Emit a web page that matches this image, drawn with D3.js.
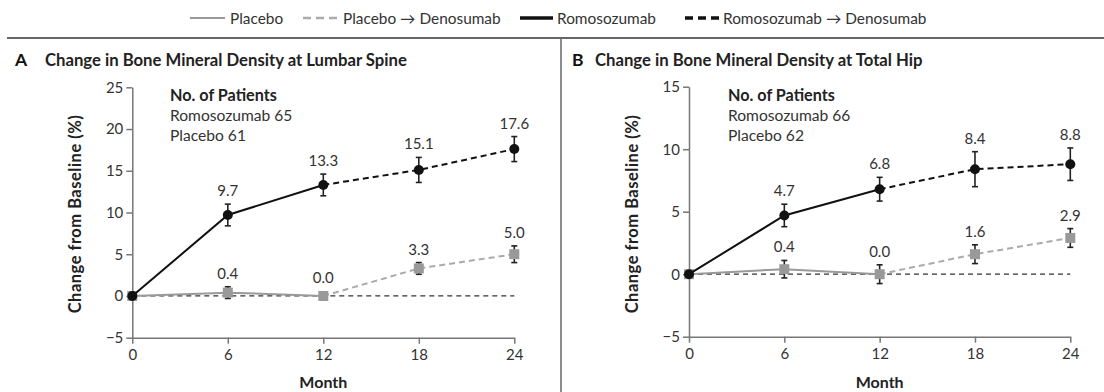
<!DOCTYPE html>
<html lang="en">
<head>
<meta charset="UTF-8"/>
<title>Bone Mineral Density</title>
<script src="https://d3js.org/d3.v7.min.js"></script>
<style>
  body { margin: 0; background: #fff; }
  text { font-family: Lato, "Open Sans", sans-serif; }
</style>
</head>
<body>
<script>
    // chart values
    var months = [0, 6, 12, 18, 24];

    var spineRomo = [0, 9.7, 13.3, 15.1, 17.6];
    var spineRomoErr = [0, 1.3, 1.3, 1.5, 1.5];
    var spinePlacebo = [0, 0.4, 0.0, 3.3, 5.0];
    var spinePlaceboErr = [0, 0.7, 0.5, 0.7, 1.0];
    var spineTicks = [-5, 0, 5, 10, 15, 20, 25];

    var hipRomo = [0, 4.7, 6.8, 8.4, 8.8];
    var hipRomoErr = [0, 0.9, 0.95, 1.4, 1.3];
    var hipPlacebo = [0, 0.4, 0.0, 1.6, 2.9];
    var hipPlaceboErr = [0, 0.7, 0.75, 0.75, 0.75];
    var hipTicks = [-5, 0, 5, 10, 15];

    var legendLabels = ["Placebo", "Placebo \u2192 Denosumab", "Romosozumab", "Romosozumab \u2192 Denosumab"];

    var w = 1104;
    var h = 392;

    var svg = d3.select("body")
                .append("svg")
                .attr("width", w)
                .attr("height", h);

    // legend across the top
    var legend = [
        {x1: 190, x2: 225, tx: 230, color: "#999", dash: null, sw: 2},
        {x1: 303, x2: 338, tx: 343, color: "#aaa", dash: "8,5", sw: 2.5},
        {x1: 520, x2: 553, tx: 557, color: "#111", dash: null, sw: 3.5},
        {x1: 685, x2: 720, tx: 723, color: "#111", dash: "8,5", sw: 3.5}
    ];
    legend.forEach(function(d, i) {
        svg.append("line")
           .attr("x1", d.x1).attr("x2", d.x2)
           .attr("y1", 18).attr("y2", 18)
           .attr("stroke", d.color)
           .attr("stroke-width", d.sw)
           .attr("stroke-dasharray", d.dash);
        svg.append("text")
           .attr("x", d.tx)
           .attr("y", 23.5)
           .attr("font-size", "15.4px")
           .attr("fill", "#333")
           .text(legendLabels[i]);
    });

    // frame lines
    svg.append("line")
       .attr("x1", 7).attr("x2", w)
       .attr("y1", 38).attr("y2", 38)
       .attr("stroke", "#666").attr("stroke-width", 2);
    svg.append("line")
       .attr("x1", 561).attr("x2", 561)
       .attr("y1", 38).attr("y2", h)
       .attr("stroke", "#666").attr("stroke-width", 1.5);

    function drawPanel(p) {
        var xScale = d3.scaleLinear()
                       .domain([0, 24])
                       .range([p.left, p.right]);
        var yScale = d3.scaleLinear()
                       .domain([p.ticks[0], p.ticks[p.ticks.length - 1]])
                       .range([p.bottom, p.top]);

        // panel letter and title
        svg.append("text")
           .attr("x", p.letterX).attr("y", 65.5)
           .attr("font-size", "17.5px").attr("font-weight", "bold")
           .attr("fill", "#111")
           .text(p.letter);
        svg.append("text")
           .attr("x", p.titleX).attr("y", 65.5)
           .attr("font-size", "16.7px").attr("font-weight", "bold")
           .attr("fill", "#222")
           .text(p.title);

        // axes
        var yAxis = d3.axisLeft(yScale)
                      .tickValues(p.ticks)
                      .tickSize(6)
                      .tickSizeOuter(0)
                      .tickPadding(3)
                      .tickFormat(function(d) { return d < 0 ? "\u2212" + Math.abs(d) : d; });
        var xAxis = d3.axisBottom(xScale)
                      .tickValues(months)
                      .tickSize(6)
                      .tickSizeOuter(0)
                      .tickPadding(6);

        var gy = svg.append("g")
                    .attr("transform", "translate(" + p.left + ",0)")
                    .call(yAxis);
        var gx = svg.append("g")
                    .attr("transform", "translate(0," + p.bottom + ")")
                    .call(xAxis);
        [gx, gy].forEach(function(g) {
            g.select(".domain").attr("stroke", "#777").attr("stroke-width", 1.5);
            g.selectAll(".tick line").attr("stroke", "#777").attr("stroke-width", 1.5);
            g.selectAll(".tick text")
             .attr("font-family", "Lato, sans-serif")
             .attr("font-size", "15px")
             .attr("fill", "#333");
        });

        // axis titles
        svg.append("text")
           .attr("transform", "rotate(-90)")
           .attr("x", -214)
           .attr("y", p.left - 51)
           .attr("text-anchor", "middle")
           .attr("font-size", "16.5px").attr("font-weight", "bold")
           .attr("letter-spacing", "0.5px")
           .attr("fill", "#222")
           .text("Change from Baseline (%)");
        svg.append("text")
           .attr("x", xScale(12))
           .attr("y", 387.5)
           .attr("text-anchor", "middle")
           .attr("font-size", "16px").attr("font-weight", "bold")
           .attr("fill", "#222")
           .text("Month");

        // patient counts
        var info = svg.append("g").attr("font-size", "15.6px").attr("fill", "#333");
        info.append("text").attr("x", p.infoX).attr("y", 100.5)
            .attr("font-size", "16.2px")
            .attr("font-weight", "bold").attr("fill", "#222")
            .text("No. of Patients");
        info.append("text").attr("x", p.infoX).attr("y", 120.5)
            .text("Romosozumab " + p.nRomo);
        info.append("text").attr("x", p.infoX).attr("y", 140.5)
            .text("Placebo " + p.nPlacebo);

        // zero reference line
        svg.append("line")
           .attr("x1", xScale(0)).attr("x2", xScale(24))
           .attr("y1", yScale(0)).attr("y2", yScale(0))
           .attr("stroke", "#333").attr("stroke-width", 1.2)
           .attr("stroke-dasharray", "5,4");

        var line = d3.line()
                     .x(function(d) { return xScale(d[0]); })
                     .y(function(d) { return yScale(d[1]); });

        function series(vals, errs, color, dashColor, marker) {
            var pts = months.map(function(m, i) { return [m, vals[i], errs[i]]; });
            var solid = pts.slice(0, 3);
            var dashed = pts.slice(2);

            svg.append("path").datum(solid)
               .attr("d", line).attr("fill", "none")
               .attr("stroke", color).attr("stroke-width", 2);
            svg.append("path").datum(dashed)
               .attr("d", line).attr("fill", "none")
               .attr("stroke", dashColor).attr("stroke-width", 2)
               .attr("stroke-dasharray", "6,4");

            var bars = pts.filter(function(d) { return d[2] > 0; });
            var eb = svg.append("g").attr("stroke", "#222").attr("stroke-width", 1.6);
            eb.selectAll("line.v").data(bars).enter().append("line")
              .attr("x1", function(d) { return xScale(d[0]); })
              .attr("x2", function(d) { return xScale(d[0]); })
              .attr("y1", function(d) { return yScale(d[1] - d[2]); })
              .attr("y2", function(d) { return yScale(d[1] + d[2]); });
            [1, -1].forEach(function(s) {
                eb.selectAll("line.c" + s).data(bars).enter().append("line")
                  .attr("x1", function(d) { return xScale(d[0]) - 3; })
                  .attr("x2", function(d) { return xScale(d[0]) + 3; })
                  .attr("y1", function(d) { return yScale(d[1] + s * d[2]); })
                  .attr("y2", function(d) { return yScale(d[1] + s * d[2]); });
            });

            if (marker === "circle") {
                svg.selectAll(null).data(pts).enter().append("circle")
                   .attr("cx", function(d) { return xScale(d[0]); })
                   .attr("cy", function(d) { return yScale(d[1]); })
                   .attr("r", 5)
                   .attr("fill", "#111");
            } else {
                svg.selectAll(null).data(pts).enter().append("rect")
                   .attr("x", function(d) { return xScale(d[0]) - 5; })
                   .attr("y", function(d) { return yScale(d[1]) - 5; })
                   .attr("width", 10).attr("height", 10)
                   .attr("fill", "#999");
            }

            // value labels above the error bars
            svg.selectAll(null).data(pts.slice(1)).enter().append("text")
               .attr("x", function(d) { return xScale(d[0]); })
               .attr("y", function(d) { return Math.min(yScale(d[1] + d[2]), yScale(d[1]) - 5) - 8; })
               .attr("text-anchor", "middle")
               .attr("font-size", "15px")
               .attr("fill", "#333")
               .text(function(d) { return d[1].toFixed(1); });
        }

        series(p.placebo, p.placeboErr, "#999", "#aaa", "square");
        series(p.romo, p.romoErr, "#111", "#111", "circle");
    }

    drawPanel({
        letter: "A", letterX: 15, titleX: 45,
        title: "Change in Bone Mineral Density at Lumbar Spine",
        left: 132.3, right: 514.3, top: 87.3, bottom: 337.7,
        ticks: spineTicks, infoX: 170, nRomo: 65, nPlacebo: 61,
        romo: spineRomo, romoErr: spineRomoErr,
        placebo: spinePlacebo, placeboErr: spinePlaceboErr
    });

    drawPanel({
        letter: "B", letterX: 572, titleX: 595,
        title: "Change in Bone Mineral Density at Total Hip",
        left: 689, right: 1070.3, top: 86.7, bottom: 336.7,
        ticks: hipTicks, infoX: 728, nRomo: 66, nPlacebo: 62,
        romo: hipRomo, romoErr: hipRomoErr,
        placebo: hipPlacebo, placeboErr: hipPlaceboErr
    });
</script>
</body>
</html>
